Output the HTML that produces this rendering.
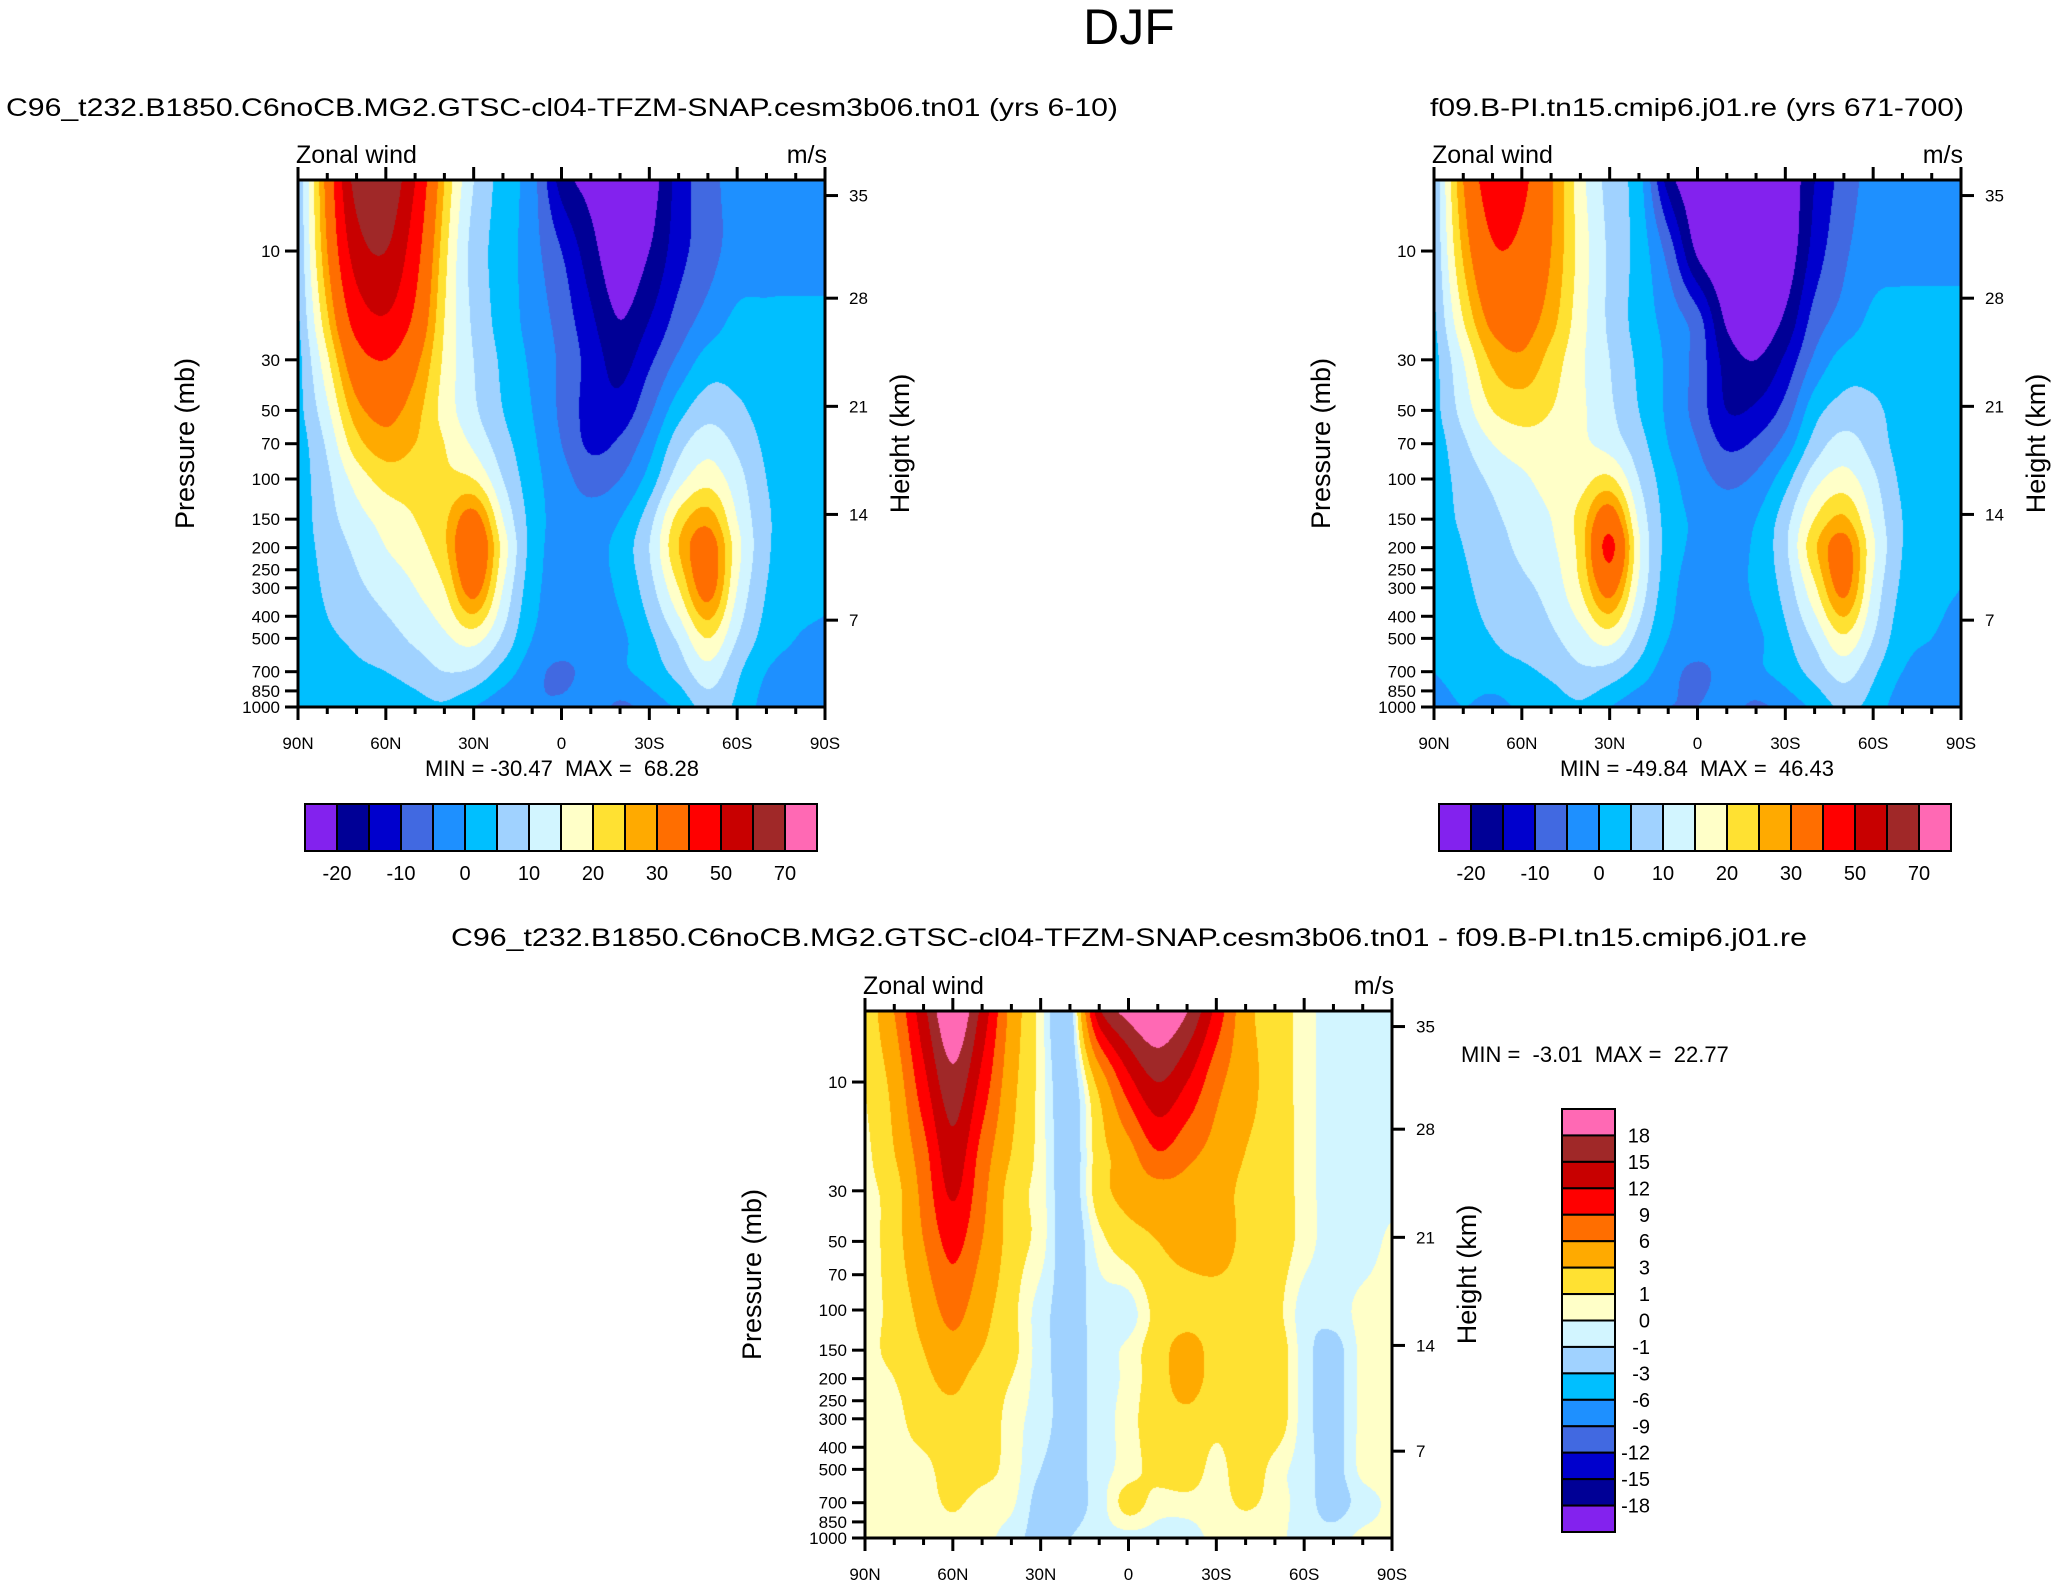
<!DOCTYPE html>
<html><head><meta charset="utf-8">
<style>
html,body{margin:0;padding:0;background:#fff;}
#wrap{position:relative;width:2059px;height:1588px;overflow:hidden;font-family:"Liberation Sans",Arial,sans-serif;}
canvas{position:absolute;}
svg{position:absolute;left:0;top:0;}
text{font-family:"Liberation Sans",Arial,sans-serif;fill:#000;white-space:pre;}
</style></head>
<body>
<div id="wrap">
<canvas id="c1" width="527" height="527" style="left:298px;top:180px;width:527px;height:527px"></canvas>
<canvas id="c2" width="527" height="527" style="left:1434px;top:180px;width:527px;height:527px"></canvas>
<canvas id="c3" width="527" height="527" style="left:865px;top:1011px;width:527px;height:527px"></canvas>
<svg id="ov" width="2059" height="1588" xmlns="http://www.w3.org/2000/svg"></svg>
</div>
<script>
// ---------- DATA ----------
const lats = [90,80,70,60,50,40,30,20,10,0,-10,-20,-30,-40,-50,-60,-70,-80,-90];
const levelsA = [5,10,20,30,50,70,100,150,200,300,500,700,1000];
const windA = [
[5,33,64,68,50,25,10,3,-3,-17,-22,-25,-23,-13,-7,-3,-2,-2,-2],
[5,30,55,60,44,22,8,3,-3,-10,-18,-24,-20,-12,-7,-3,-2,-2,-2],
[4,24,44,49,38,20,9,3,-2,-7,-14,-20,-15,-8,-3,1,1,1,1],
[3,19,36,40,32,19,10,4,-1,-6,-12,-17,-11,-4,2,3,2,1,1],
[3,14,28,32,27,18,11,5,0,-6,-12,-13,-6,3,8,6,3,1,1],
[2,11,23,28,25,20,14,7,1,-5,-11,-9,-2,8,13,9,4,2,1],
[2,9,17,22,22,21,20,10,2,-3,-7,-5,2,13,18,12,5,2,1],
[2,8,13,17,20,24,33,15,3,-2,-3,0,8,22,28,15,6,2,1],
[2,7,11,15,18,24,38,18,3,-2,-2,2,10,25,34,17,6,2,1],
[1,6,9,12,15,20,33,15,2,-2,-2,1,8,20,33,15,5,2,1],
[1,4,6,8,11,14,17,9,0,-2,-2,-1,4,11,20,10,3,0,-1],
[1,2,4,5,7,10,9,3,-3,-6,-3,-1,2,7,13,6,0,-2,-2],
[1,1,2,2,3,4,0,-4,-5,-4,-2,-6,-3,1,7,4,-2,-3,-5]
];
const levelsB = [5,10,20,30,50,70,100,150,200,300,500,700,1000];
const windB = [
[5,30,45,42,31,17,8,2,-17,-25,-28,-28,-25,-15,-8,-3,-2,-2,-2],
[5,26,39,38,30,18,9,3,-7,-21,-26,-27,-24,-13,-6,-2,-2,-2,-2],
[4,20,32,33,27,17,9,3,-2,-8,-21,-24,-19,-8,-3,1,2,2,2],
[3,15,26,29,23,16,10,4,-1,-7,-17,-20,-14,-4,2,3,2,2,2],
[3,12,20,22,20,16,11,5,-1,-7,-15,-14,-8,3,7,6,3,2,2],
[2,9,15,18,18,16,13,7,0,-5,-11,-9,-3,7,12,8,3,2,2],
[2,7,11,14,17,18,21,10,2,-3,-6,-4,3,13,17,11,4,2,2],
[2,6,9,12,15,22,35,14,3,-1,-3,0,8,20,26,14,5,2,1],
[1,5,8,11,14,22,42,16,3,-1,-2,1,9,24,33,16,5,2,1],
[1,4,7,9,12,20,33,14,2,-2,-2,1,7,19,32,14,4,1,0],
[1,3,5,7,9,13,17,8,0,-2,-2,-1,4,11,19,10,2,0,-1],
[0,2,3,4,6,9,8,3,-3,-6,-3,-1,2,7,12,6,0,-2,-2],
[-3,0,-2,1,2,4,0,-4,-5,-5,-3,-6,-3,1,6,3,-3,-3,-4]
];
const levelsD = [5,10,20,30,50,100,150,200,300,500,700,1000];
const windDiff = [
[1,6,14,21,14,5,0.5,-2,14,19,21,18,11,4,2,0.5,-0.5,-0.5,-0.5],
[1,4,11,17,11,4,0.5,-2,4,11,15,12,7,4,2,0.5,-0.5,-0.5,-0.5],
[0.5,3,8,14,8,3,0.5,-2,2,5,9,7,5,3,2,0.5,-0.5,-0.5,-0.5],
[0.5,2,7,12.5,7,2,0.5,-2,2,4,5,5,4,2.5,2,0.5,-0.5,-0.5,-0.5],
[0.2,2,6,10,6,2,0.5,-2,0.5,2,3,4,4,2.5,2,0.5,-0.5,-0.5,0.3],
[0.5,1.5,4,7,4,1.5,-0.5,-1.5,-0.5,-0.5,1.5,2,2,2,1.5,-0.5,-0.5,0.3,0.5],
[0.5,1.5,3,5,3,1.5,-0.5,-1.5,-0.5,0.3,2,4,2,1.5,2,-0.5,-1.5,0.3,0.5],
[0.5,1,2.5,3.5,2,1,-0.5,-1.5,-0.5,0.3,2,4,2,1.5,2,-0.5,-1.5,0.3,0.5],
[0.5,0.5,2,2.5,2,0.5,-0.5,-1.5,-0.5,0.5,2,2.5,1.5,2,2,-0.5,-1.5,0.3,0.5],
[0.5,0.5,0.5,2,1.5,0.5,-1,-1.5,-0.5,0.5,1.5,2,0.5,2,0.5,-0.5,-1.5,0.3,0.5],
[0.5,0.5,0.5,1.2,0.5,0.2,-1.5,-1.5,-0.5,1.5,0.5,0.5,0.5,1.2,0.5,-0.5,-1.5,-0.5,0.3],
[0.5,0.5,0.5,0.5,0.3,-0.5,-1.5,-1,-0.5,-0.5,-0.5,-0.5,0.3,0.3,0.3,-0.5,-0.5,0.3,0.3]
];
const boundsAbs = [-20,-15,-10,-5,0,5,10,15,20,25,30,40,50,60,70];
const absTickLabels = ["-20","-10","0","10","20","30","50","70"];
const boundsDiff = [-18,-15,-12,-9,-6,-3,-1,0,1,3,6,9,12,15,18];
const pressTicks = [10,30,50,70,100,150,200,250,300,400,500,700,850,1000];
const heightKm = [7,14,21,28,35];
const heightP = [416,143,48,16.1,5.71];
const latTicks = [90,60,30,0,-30,-60,-90];
const latTickLabels = ["90N","60N","30N","0","30S","60S","90S"];
const palette = ["#8322EE","#000096","#0000CD","#4169E1","#1E90FF","#00BFFF","#A0D2FF","#D2F5FF","#FFFFC8","#FFE132","#FFAA00","#FF6E00","#FF0000","#C80000","#A02828","#FF69B4"];

// ---------- SCALES ----------
const PTOP = 4.88, PBOT = 1000, SZ = 527;
function yFrac(p){ return (Math.log10(p)-Math.log10(PTOP))/(Math.log10(PBOT)-Math.log10(PTOP)); }
function xFrac(lat){ return (90-lat)/180; }
function hexRGB(h){ return [parseInt(h.slice(1,3),16),parseInt(h.slice(3,5),16),parseInt(h.slice(5,7),16)]; }
const palRGB = palette.map(hexRGB);
function colorIdx(v,b){ let i=0; while(i<b.length && v>=b[i]) i++; return i; }
function cubic(xs,ys,x){
  const n=xs.length;
  if(x<=xs[0]) return ys[0]; if(x>=xs[n-1]) return ys[n-1];
  let k=0; while(k<n-2 && x>xs[k+1]) k++;
  const h=xs[k+1]-xs[k], t=(x-xs[k])/h;
  const slope=(i)=>{ if(i===0) return (ys[1]-ys[0])/(xs[1]-xs[0]); if(i===n-1) return (ys[n-1]-ys[n-2])/(xs[n-1]-xs[n-2]); return (ys[i+1]-ys[i-1])/(xs[i+1]-xs[i-1]); };
  const m0=slope(k)*h, m1=slope(k+1)*h, t2=t*t, t3=t2*t;
  return (2*t3-3*t2+1)*ys[k]+(t3-2*t2+t)*m0+(-2*t3+3*t2)*ys[k+1]+(t3-t2)*m1;
}

function drawField(id, levels, grid, bounds){
  const cv=document.getElementById(id), ctx=cv.getContext('2d');
  const img=ctx.createImageData(SZ,SZ), d=img.data;
  const logL = levels.map(Math.log10);
  const xi = lats.map((l,i)=>i);
  for(let py=0;py<SZ;py++){
    const lp = Math.log10(PTOP) + (py+0.5)/SZ*(Math.log10(PBOT)-Math.log10(PTOP));
    const row = lats.map((l,j)=>cubic(logL, grid.map(r=>r[j]), lp));
    for(let px=0;px<SZ;px++){
      const fx=(px+0.5)/SZ*(lats.length-1);
      const v=cubic(xi,row,fx);
      const c=palRGB[colorIdx(v,bounds)], o=(py*SZ+px)*4;
      d[o]=c[0];d[o+1]=c[1];d[o+2]=c[2];d[o+3]=255;
    }
  }
  ctx.putImageData(img,0,0);
}
drawField('c1',levelsA,windA,boundsAbs);
drawField('c2',levelsB,windB,boundsAbs);
drawField('c3',levelsD,windDiff,boundsDiff);

// ---------- ANNOTATIONS ----------
const NS='http://www.w3.org/2000/svg', svg=document.getElementById('ov');
function mk(tag,attrs,parent){ const e=document.createElementNS(NS,tag); for(const k in attrs) e.setAttribute(k,attrs[k]); (parent||svg).appendChild(e); return e; }
function txt(s,x,y,size,anchor,parent,extra){ const e=mk('text',Object.assign({x:x,y:y,'font-size':size,'text-anchor':anchor||'middle'},extra||{}),parent); e.textContent=s; return e; }

function axes(x0,y0,name){
  const g=mk('g',{});
  
  
  const fr=mk('rect',{x:x0,y:y0,width:SZ,height:SZ,fill:'none',stroke:'#000','stroke-width':3},g);
  
  
  for(let lat=90;lat>=-90;lat-=10){
    const x=x0+xFrac(lat)*SZ, major=(lat%30===0), L=major?13:7;
    mk('line',{x1:x,y1:y0+SZ,x2:x,y2:y0+SZ+L,stroke:'#000','stroke-width':3},g);
    mk('line',{x1:x,y1:y0,x2:x,y2:y0-L,stroke:'#000','stroke-width':3},g);
  }
  latTicks.forEach((lat,i)=>{
    const t=txt(latTickLabels[i],x0+xFrac(lat)*SZ,y0+SZ+42,17,'middle',g);
    
    
  });
  pressTicks.forEach(p=>{
    const y=y0+yFrac(p)*SZ;
    mk('line',{x1:x0,y1:y,x2:x0-13,y2:y,stroke:'#000','stroke-width':3},g);
    const t=txt(String(p),x0-18,y+6,17,'end',g);
    
    
  });
  heightP.forEach((p,i)=>{
    const y=y0+yFrac(p)*SZ;
    mk('line',{x1:x0+SZ,y1:y,x2:x0+SZ+13,y2:y,stroke:'#000','stroke-width':3},g);
    const t=txt(String(heightKm[i]),x0+SZ+24,y+6,17,'start',g);
    
    
  });
  const yt=txt('Pressure (mb)',0,0,27,'middle',g,{transform:`translate(${x0-104},${y0+SZ/2}) rotate(-90)`});
  
  
  const ht=txt('Height (km)',0,0,27,'middle',g,{transform:`translate(${x0+SZ+84},${y0+SZ/2}) rotate(-90)`});
  
  
  const zl=txt('Zonal wind',x0-2,y0-17,25,'start',g);
  
  
  const ul=txt('m/s',x0+SZ+2,y0-17,25,'end',g);
  
  
}

const tt=txt('DJF',1129,44,50,'middle');



axes(298,180,'panel-model');
axes(1434,180,'panel-control');
axes(865,1011,'panel-difference');

const s1=txt('C96_t232.B1850.C6noCB.MG2.GTSC-cl04-TFZM-SNAP.cesm3b06.tn01 (yrs 6-10)',562,116,25,'middle',null,{textLength:1112,lengthAdjust:'spacingAndGlyphs'});


const s2=txt('f09.B-PI.tn15.cmip6.j01.re (yrs 671-700)',1697,116,25,'middle',null,{textLength:534,lengthAdjust:'spacingAndGlyphs'});


const s3=txt('C96_t232.B1850.C6noCB.MG2.GTSC-cl04-TFZM-SNAP.cesm3b06.tn01 - f09.B-PI.tn15.cmip6.j01.re',1129,946,25,'middle',null,{textLength:1356,lengthAdjust:'spacingAndGlyphs'});



const m1=txt('MIN = -30.47  MAX =  68.28',562,776,22,'middle');


const m2=txt('MIN = -49.84  MAX =  46.43',1697,776,22,'middle');


const m3=txt('MIN =  -3.01  MAX =  22.77',1461,1062,22,'start');



function hBar(x0,y0,w,h,name){
  const g=mk('g',{});
  
  
  const bw=w/palette.length;
  palette.forEach((c,i)=>{
    const r=mk('rect',{x:x0+i*bw,y:y0,width:bw,height:h,fill:c,stroke:'#000','stroke-width':2},g);
    
    
  });
  absTickLabels.forEach((s,i)=>{
    const t=txt(s,x0+(2*i+1)*bw,y0+h+29,20,'middle',g);
    
    
  });
}
hBar(305,804,512,47,'colorbar-model');
hBar(1439,804,512,47,'colorbar-control');

(function vBar(){
  const x0=1562,y0=1109,w=53,h=423;
  const g=mk('g',{});
  
  
  const n=palette.length, bh=h/n;
  for(let i=0;i<n;i++){
    const r=mk('rect',{x:x0,y:y0+i*bh,width:w,height:bh,fill:palette[n-1-i],stroke:'#000','stroke-width':2},g);
    
    
  }
  for(let i=0;i<boundsDiff.length;i++){
    const v=boundsDiff[boundsDiff.length-1-i];
    const t=txt(String(v),1650,y0+(i+1)*bh+7,20,'end',g);
    
    
  }
})();
</script>
</body></html>
